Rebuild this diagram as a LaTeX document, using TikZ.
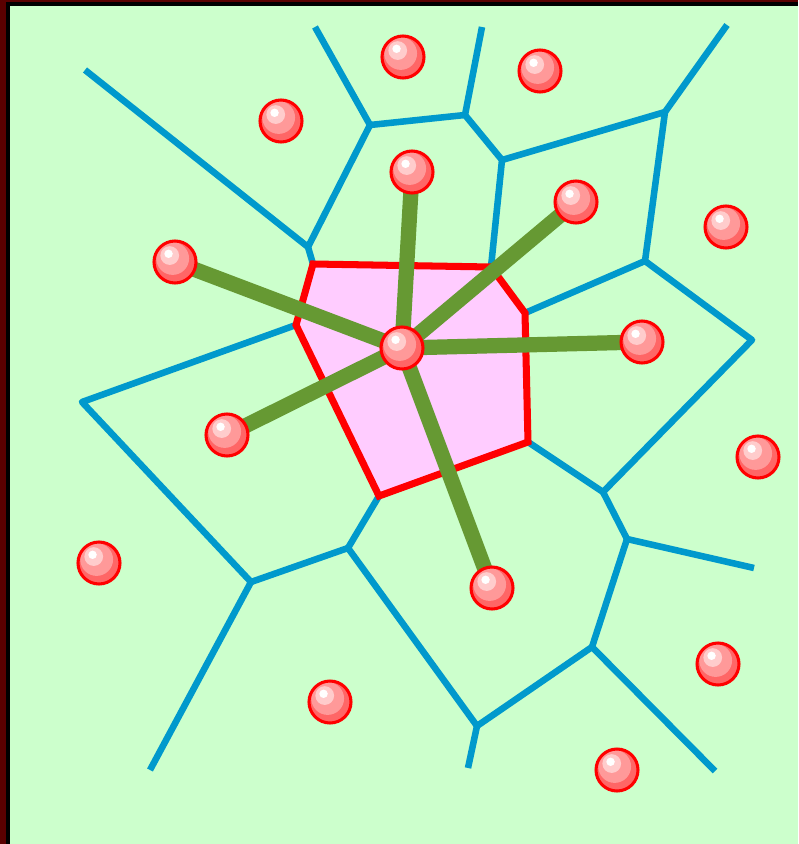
\documentclass[tikz,border=0pt]{standalone}
\usetikzlibrary{backgrounds}
\definecolor{bgGreen}{HTML}{CCFFCC}
\definecolor{ridgeBlue}{HTML}{0099CC}
\definecolor{cellPink}{HTML}{FFCCFF}
\definecolor{linkGreen}{HTML}{669933}
\definecolor{frameRed}{HTML}{5A0000}
\definecolor{ballA}{HTML}{FF6666}
\definecolor{ballB}{HTML}{FF9999}
\definecolor{ballC}{HTML}{FFCCCC}
\begin{document}
\begin{tikzpicture}[x=0.03cm, y=-0.03cm,
        site/.style={circle, draw=red, line width=2.6pt, fill=ballA,
                     minimum size=1.26cm, inner sep=0pt,
                     path picture={
                       \fill[ballB] ([xshift=-2pt,yshift=3pt]path picture bounding box.center) circle (14pt);
                       \fill[ballC] ([xshift=-4.5pt,yshift=5.5pt]path picture bounding box.center) circle (8pt);
                       \fill[white] ([xshift=-5.5pt,yshift=7pt]path picture bounding box.center) circle (3.6pt);}},
        ridge/.style={draw=ridgeBlue, line width=5.6pt, line join=round},
        cell/.style={draw=red, line width=6pt, fill=cellPink, line join=miter},
        link/.style={draw=linkGreen, line width=13pt}]
      \useasboundingbox (0,0) rectangle (798,844);
      % Sites
      \node[site] (mid) at (402,348) {};
      \node[site] (nb1) at (412,172) {};
      \node[site] (nb2) at (576,202) {};
      \node[site] (nb3) at (642,342) {};
      \node[site] (nb4) at (492,588) {};
      \node[site] (nb5) at (227,435) {};
      \node[site] (nb6) at (175,262) {};
      \node[site] (far1)  at (403,57)  {};
      \node[site] (far2)  at (540,71)  {};
      \node[site] (far3)  at (281,121) {};
      \node[site] (far4)  at (726,227) {};
      \node[site] (far5)  at (758,457) {};
      \node[site] (far6)  at (99,563)  {};
      \node[site] (far7)  at (718,664) {};
      \node[site] (far8)  at (330,702) {};
      \node[site] (far9)  at (617,770) {};
      % Cell vertices
      \coordinate (p1) at (313,264);
      \coordinate (p2) at (491,267);
      \coordinate (p3) at (525,313);
      \coordinate (p4) at (528,442);
      \coordinate (p5) at (379,496);
      \coordinate (p6) at (296,325);
      % Other Voronoi vertices
      \coordinate (v1)  at (85,70);
      \coordinate (v2)  at (308,247);
      \coordinate (v3)  at (370,125);
      \coordinate (v4)  at (315,27);
      \coordinate (v5)  at (465,115);
      \coordinate (v6)  at (482,27);
      \coordinate (v7)  at (502,160);
      \coordinate (v8)  at (665,112);
      \coordinate (v9)  at (727,25);
      \coordinate (v10) at (645,261);
      \coordinate (v11) at (752,340);
      \coordinate (v12) at (603,492);
      \coordinate (v13) at (627,539);
      \coordinate (v14) at (754,568);
      \coordinate (v15) at (592,647);
      \coordinate (v16) at (715,771);
      \coordinate (v17) at (477,726);
      \coordinate (v18) at (468,768);
      \coordinate (v19) at (348,548);
      \coordinate (v20) at (251,582);
      \coordinate (v21) at (150,770);
      \coordinate (v22) at (82,402);
      \begin{scope}[on background layer]
        % Frame and ground
        \fill[frameRed] (0,0) rectangle (798,844);
        \fill[black] (6,2) rectangle (798,844);
        \fill[bgGreen] (10,6) rectangle (798,844);
        % Voronoi ridges
        \draw[ridge] (v1) -- (v2) -- (p1);
        \draw[ridge] (v2) -- (v3) -- (v4);
        \draw[ridge] (v3) -- (v5) -- (v6);
        \draw[ridge] (v5) -- (v7) -- (v8) -- (v9);
        \draw[ridge] (v7) -- (p2);
        \draw[ridge] (v8) -- (v10) -- (v11) -- (v12) -- (v13) -- (v14);
        \draw[ridge] (v10) -- (p3);
        \draw[ridge] (v12) -- (p4);
        \draw[ridge] (v13) -- (v15) -- (v16);
        \draw[ridge] (v15) -- (v17) -- (v18);
        \draw[ridge] (v17) -- (v19) -- (v20) -- (v22) -- (p6);
        \draw[ridge] (v19) -- (p5);
        \draw[ridge] (v20) -- (v21);
        % Cell of the middle site
        \draw[cell] (p1) -- (p2) -- (p3) -- (p4) -- (p5) -- (p6) -- cycle;
        % Links to the neighbours
        \foreach \n in {nb1,nb2,nb3,nb4,nb5,nb6}
          \draw[link] (mid.center) -- (\n.center);
      \end{scope}
    \end{tikzpicture}
\end{document}
